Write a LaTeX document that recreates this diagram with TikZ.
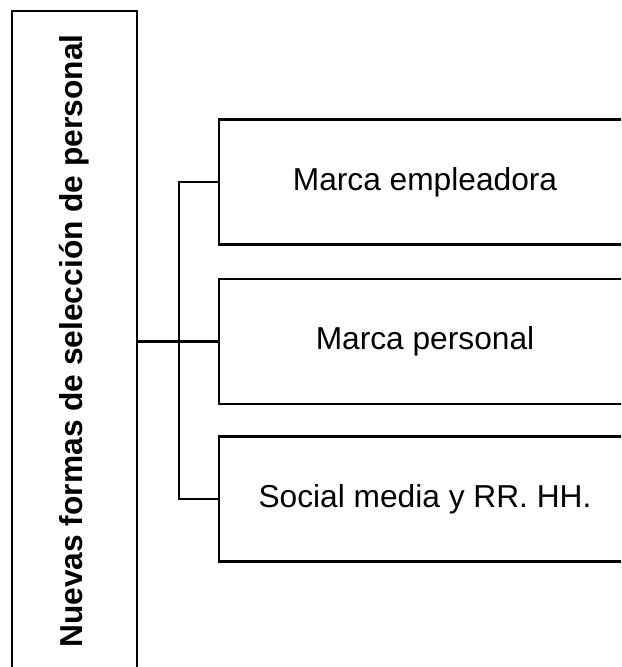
\documentclass[tikz,border=0pt]{standalone}
\usepackage{fontspec}
\setmainfont{Liberation Sans}
\usetikzlibrary{positioning}

\begin{document}
\begin{tikzpicture}[
  x=0.5pt, y=-0.5pt,
  font=\fontsize{15.85}{19}\selectfont,
  node distance=15.5pt,
  box/.style={draw,line width=1.3pt,inner sep=3pt,align=center},
  side/.style={box,minimum width=62.5pt,minimum height=330pt},
  item/.style={box,minimum width=206pt,minimum height=62.5pt},
  conn/.style={draw,line width=1.3pt}
]
\clip (0,0) rectangle (621,667);

% ---- Title column ----
\node[side] (title) at (74.5,341) {};
\node[rotate=90,font=\fontsize{15.85}{19}\selectfont\bfseries] (titletext) at (title.center)
  {Nuevas formas de selección de personal};

% ---- Items ----
\node[item] (m2) at (425,341.5) {Marca personal};
\node[item, above=16pt of m2] (m1) {Marca empleadora};
\node[item, below=15pt of m2] (m3) {Social media y RR. HH.};

% ---- Connectors ----
\coordinate (fork) at (179,341.5);
\path[conn] (title.east |- m2.west) -- (m2.west);
\path[conn] (m1.west) -| (fork) |- (m3.west);

\end{tikzpicture}
\end{document}
